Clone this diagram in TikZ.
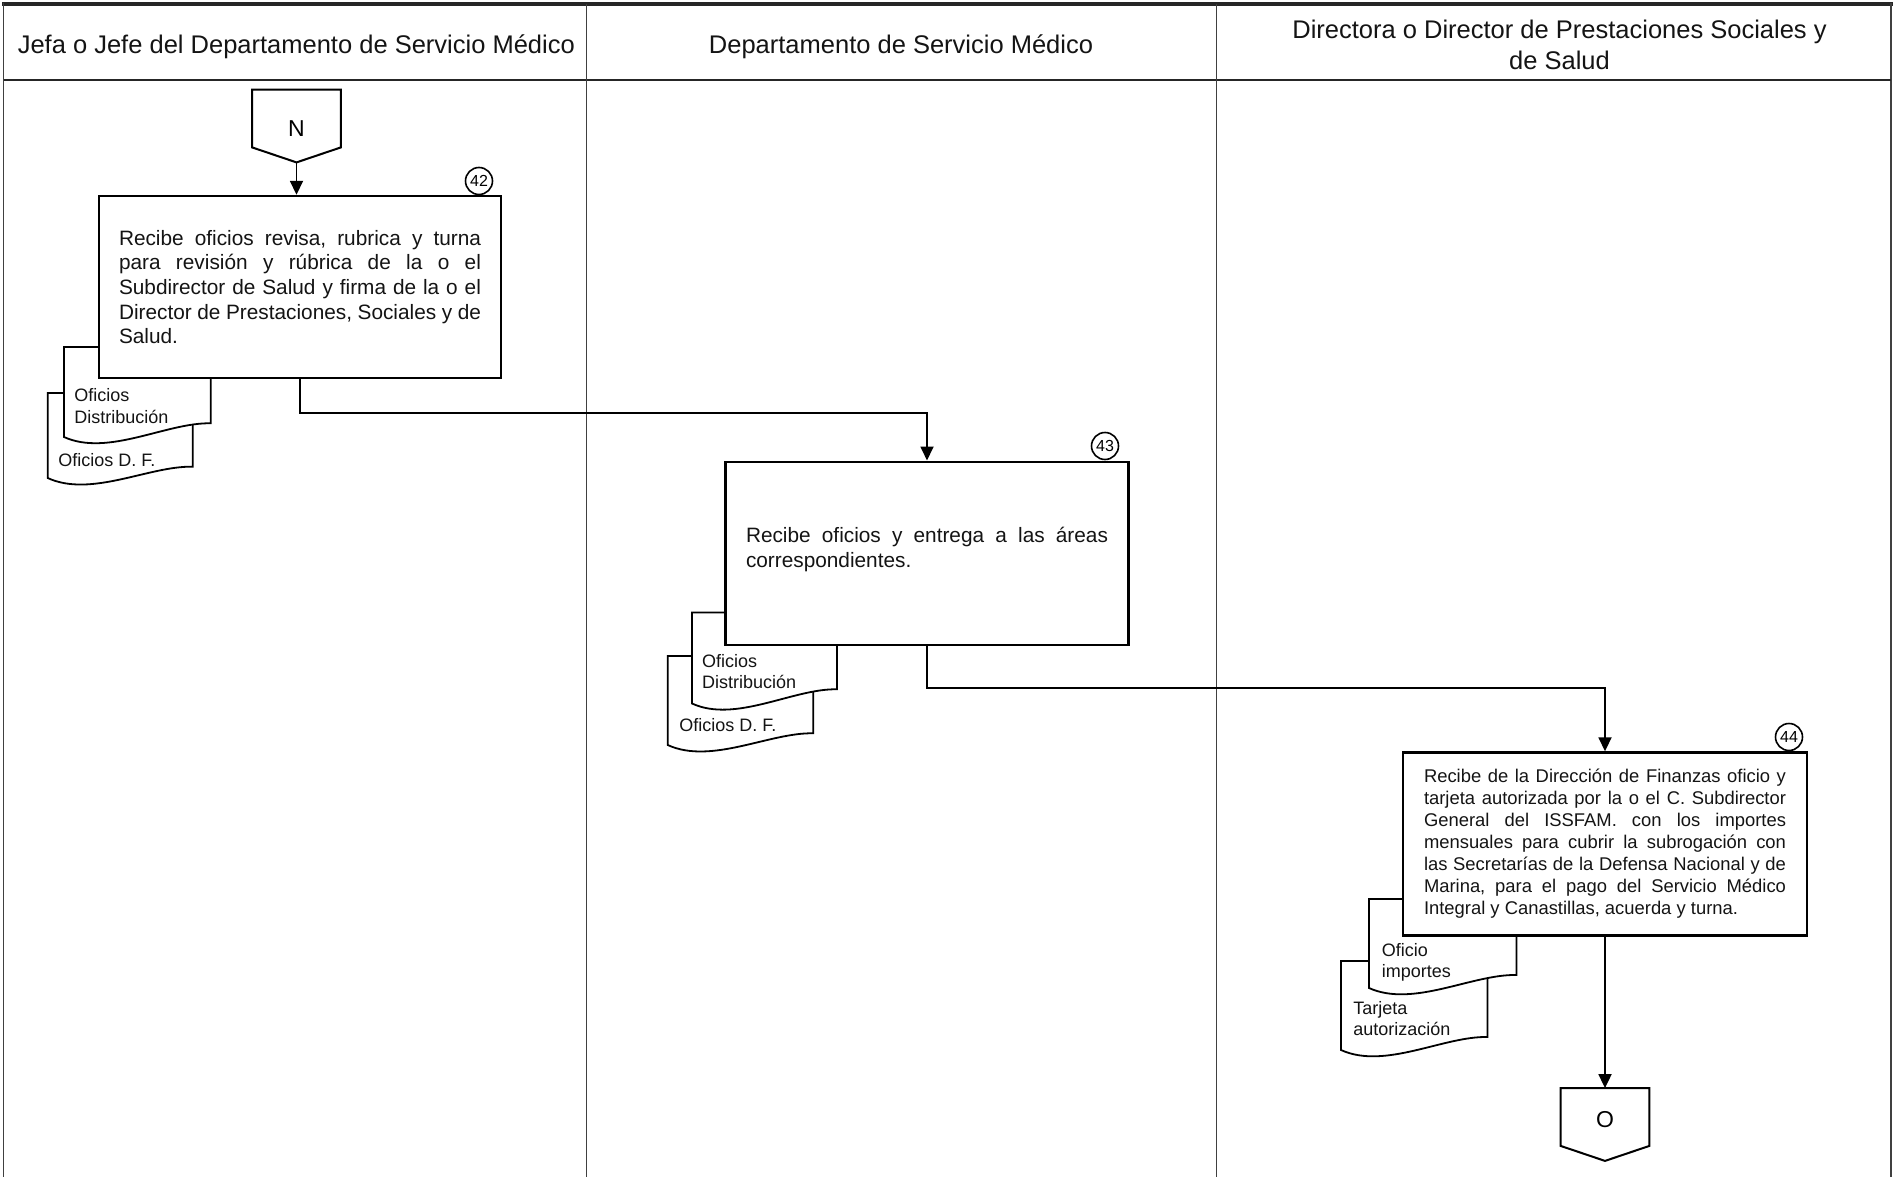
\documentclass[tikz,border=0pt]{standalone}
\usepackage{fontspec}
\setmainfont{Liberation Sans}
\usetikzlibrary{arrows.meta}
\frenchspacing

% text settings for the activity boxes (justified, no hyphenation)
\newcommand\procfont{\fontsize{10.4}{12.3}\selectfont\sloppy\hyphenpenalty=10000\relax}
\newcommand\procfontsmall{\fontsize{9.2}{11}\selectfont\sloppy\hyphenpenalty=10000\relax}

% document symbol: left, top, right, bottom at right edge, bottom at left edge
\newcommand\docsheet[5]{%
  \filldraw[docline] (#1,#2) -- (#3,#2) -- (#3,#4)
    .. controls ({#3-0.3*(#3-#1)},{#4-1}) and ({#1+0.3*(#3-#1)},{#5+20}) .. (#1,#5) -- cycle;}

% off-page connector outline around a named node
\newcommand\offpageoutline[1]{%
  \draw[shapeline] (#1.north west) -- (#1.north east) -- ([yshift=7.5pt]#1.south east)
    -- (#1.south) -- ([yshift=7.5pt]#1.south west) -- cycle;}

\tikzset{
  lane/.style={draw=black!75, line width=0.8pt},
  headtext/.style={font=\fontsize{12.75}{15}\selectfont, anchor=base, inner sep=0pt, text=black!92},
  procbox/.style={draw=black, line width=1.2pt, fill=white, inner sep=0pt,
    text width=181pt, align=justify, text=black!92, font=\procfont},
  smallproc/.style={procbox, font=\procfontsmall},
  stepnum/.style={circle, draw=black, line width=0.8pt, fill=white, minimum size=13.5pt,
    inner sep=0pt, font=\fontsize{8}{9}\selectfont},
  docline/.style={draw=black, line width=0.9pt, fill=white},
  doctext/.style={anchor=base west, inner sep=0pt, font=\fontsize{9}{11}\selectfont, text=black!92},
  offpage/.style={minimum width=44pt, minimum height=36pt, inner sep=0pt,
    font=\fontsize{11.5}{13}\selectfont},
  shapeline/.style={draw=black, line width=1pt},
  flow/.style={draw=black, line width=0.9pt},
  flowarrow/.style={flow, -{Triangle[length=7pt,width=6.5pt]}},
}

\begin{document}
\begin{tikzpicture}[x=0.5pt, y=-0.5pt]
\useasboundingbox (0,0) rectangle (1896,1177);

% swimlane frame
\draw[line width=2pt, draw=black!85] (2,4) -- (1893,4);
\draw[lane] (3.5,3) -- (3.5,1177);
\draw[lane] (1891,3) -- (1891,1177);
\draw[line width=1.3pt, draw=black!85] (3.5,80) -- (1891,80);
\draw[lane] (586.5,4) -- (586.5,1177);
\draw[lane] (1216.5,4) -- (1216.5,1177);

% lane headers
\node[headtext] (hjefe) at (296.3,53.5) {Jefa o Jefe del Departamento de Servicio Médico};
\node[headtext] (hdepto) at (901,53.5) {Departamento de Servicio Médico};
\node[headtext] (hdir1) at (1559.5,38.7) {Directora o Director de Prestaciones Sociales y};
\node[headtext] (hdir2) at (1559.5,69.3) {de Salud};

% incoming connector N
\node[offpage, text height=10.2pt, text depth=0pt] (offN) at (296.5,126) {N};
\offpageoutline{offN}

% step 42
\docsheet{47.7}{393}{192.7}{466.7}{478}
\docsheet{64}{347}{210.7}{423.3}{437}
\node[procbox, minimum width=200.75pt, minimum height=91pt] (p42) at (300,287)
  {Recibe oficios revisa, rubrica y turna\linebreak para revisión y rúbrica de la o el\linebreak
   Subdirector de Salud y firma de la o el\linebreak Director de Prestaciones, Sociales y de\linebreak Salud.};
\node[stepnum] (c42) at (479,181) {42};
\node[doctext] (d42a1) at (74,401.7) {Oficios};
\node[doctext] (d42a2) at (74,423.3) {Distribución};
\node[doctext] (d42b) at (58,466.7) {Oficios D. F.};

% step 43
\docsheet{667.7}{656}{813.3}{733.3}{745}
\docsheet{692}{612.5}{837}{689.3}{703.5}
\node[procbox, minimum width=201.5pt, minimum height=91.7pt, text depth=18.1pt] (p43) at (927,553.4)
  {Recibe oficios y entrega a las áreas\linebreak correspondientes.};
\node[stepnum] (c43) at (1105,446) {43};
\node[doctext] (d43a1) at (701.7,667.3) {Oficios};
\node[doctext] (d43a2) at (701.7,688.3) {Distribución};
\node[doctext] (d43b) at (679,731.7) {Oficios D. F.};

% step 44
\docsheet{1341}{961}{1487.5}{1037}{1050}
\docsheet{1369}{899}{1516.5}{975}{988}
\node[smallproc, minimum width=202pt, minimum height=91.5pt] (p44) at (1605,844)
  {Recibe de la Dirección de Finanzas oficio y\linebreak tarjeta autorizada por la o el C. Subdirector\linebreak
   General del ISSFAM. con los importes\linebreak mensuales para cubrir la subrogación con\linebreak
   las Secretarías de la Defensa Nacional y de\linebreak Marina, para el pago del Servicio Médico\linebreak
   Integral y Canastillas, acuerda y turna.};
\node[stepnum] (c44) at (1789,737) {44};
\node[doctext] (d44a1) at (1381.5,956) {Oficio};
\node[doctext] (d44a2) at (1381.5,977) {importes};
\node[doctext] (d44b1) at (1353,1014) {Tarjeta};
\node[doctext] (d44b2) at (1353,1035.5) {autorización};

% outgoing connector O
\node[offpage, text height=3.4pt, text depth=0pt] (offO) at (1605,1124.5) {O};
\offpageoutline{offO}

% flow
\draw[flowarrow] (offN.south) -- (offN.south |- p42.north);
\draw[flowarrow] (p42.south) -- ++(0,34) -| (p43.north);
\draw[flowarrow] (p43.south) -- ++(0,42) -| (p44.north);
\draw[flowarrow] (p44.south) -- (offO.north);
\end{tikzpicture}
\end{document}
